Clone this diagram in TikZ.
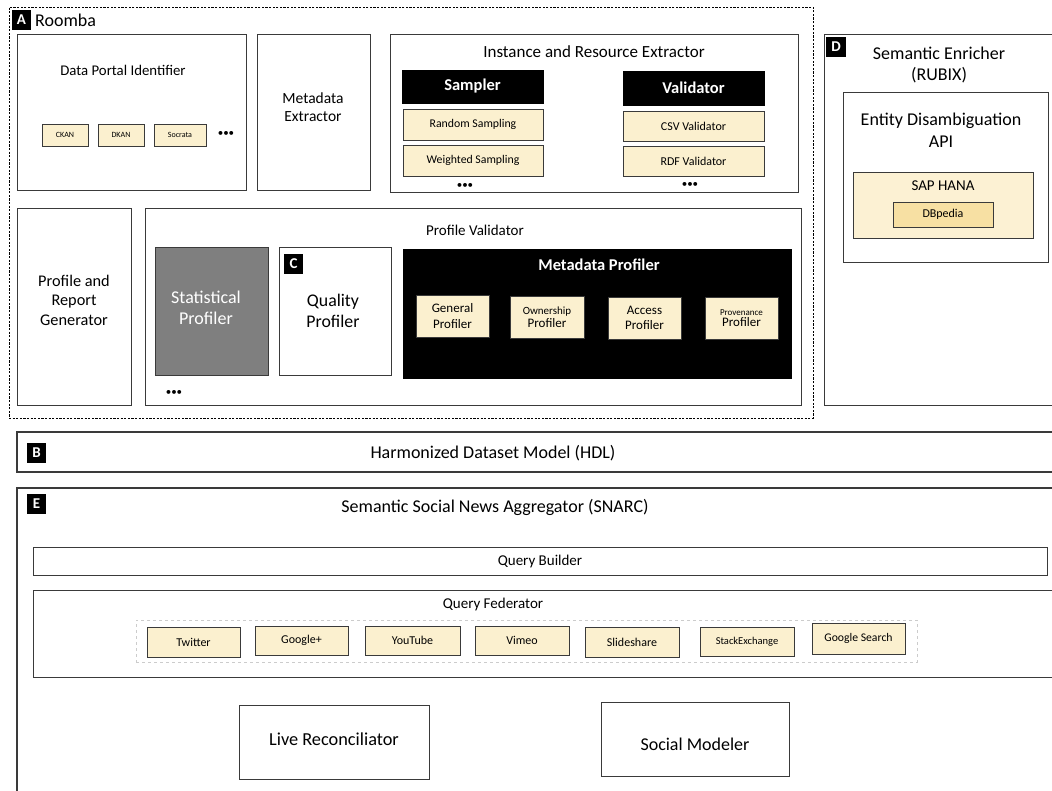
\documentclass[tikz,border=0pt]{standalone}
\usepackage{fontspec}
\setmainfont{Carlito}
\definecolor{cream}{HTML}{FBF0CF}
\definecolor{dbp}{HTML}{F7E0A3}
\definecolor{sap}{HTML}{FCF1D3}
\definecolor{edge}{HTML}{3A3A3A}
\definecolor{statgray}{HTML}{7F7F7F}
\newcommand\fs[1]{\fontsize{#1}{\fpeval{#1*1.2}}\selectfont}
\newcommand\bx[6]{\node[#6, inner sep=0pt, minimum width={(#4)-(#2)}, minimum height={(#5)-(#3)}] (#1) at ({((#2)+(#4))/2},{((#3)+(#5))/2}) {};}
\tikzset{
  box/.style={draw=edge, line width=1pt, fill=white},
  smallbox/.style={draw=edge, line width=0.9pt, fill=cream},
  blackbox/.style={draw=black, fill=black},
  graybox/.style={draw=edge, line width=1pt, fill=statgray},
  tag/.style={fill=black, text=white, font=\bfseries\fs{15}, minimum size=19.5pt, inner sep=0pt},
  lbl/.style={inner sep=0pt, align=center},
  wlbl/.style={inner sep=0pt, align=center, text=white},
  dots/.style={inner sep=0pt, font=\fs{11}},
}
\begin{document}
\begin{tikzpicture}[x=1pt,y=-1pt]
\path[use as bounding box, fill=white] (0,0) rectangle (1052,791);

% ---------- A Roomba ----------
\bx{roomba}{9}{7}{813}{418}{draw=black, line width=0.8pt, dash pattern=on 2.2pt off 1.4pt}
\node[tag] (tagA) at (21.5,20) {A};
\node[lbl, anchor=west, font=\fs{18}] (roombat) at (35,20.5) {Roomba};

% Data Portal Identifier
\bx{dpi}{17}{35}{246}{191}{box}
\node[lbl, font=\fs{14.8}] (dpit) at (123,70) {Data Portal Identifier};
\bx{ckan}{42}{124}{88}{146}{smallbox}
\node[lbl, font=\fs{8}] at (ckan) {CKAN};
\bx{dkan}{98}{124}{144}{146}{smallbox}
\node[lbl, font=\fs{8}] at (dkan) {DKAN};
\bx{socrata}{154}{124}{206}{146}{smallbox}
\node[lbl, font=\fs{8}] at (socrata) {Socrata};
\node[dots] (dpidots) at (226,134) {•••};

% Metadata Extractor
\bx{mex}{257}{35}{370}{191}{box}
\node[lbl, font=\fs{15.5}] at (313,107) {Metadata\\Extractor};

% Instance and Resource Extractor
\bx{ire}{390}{35}{798}{193}{box}
\node[lbl, font=\fs{17}] (iret) at (594,52) {Instance and Resource Extractor};
\bx{sampler}{402}{70}{543}{103}{blackbox}
\node[wlbl, font=\bfseries\fs{16.5}] at (sampler) {Sampler};
\bx{rs}{403}{109}{543}{140}{smallbox}
\node[lbl, font=\fs{11.8}] at (rs) {Random Sampling};
\bx{ws}{403}{145}{543}{176}{smallbox}
\node[lbl, font=\fs{11.8}] at (ws) {Weighted Sampling};
\node[dots] (sdots) at (465,186) {•••};
\bx{validator}{623}{71}{764}{105}{blackbox}
\node[wlbl, font=\bfseries\fs{16.5}] at (validator) {Validator};
\bx{csv}{623}{111}{764}{141}{smallbox}
\node[lbl, font=\fs{12}] at (csv) {CSV Validator};
\bx{rdf}{623}{146}{764}{176}{smallbox}
\node[lbl, font=\fs{12}] at (rdf) {RDF Validator};
\node[dots] (vdots) at (690,185) {•••};

% Profile and Report Generator
\bx{prg}{17}{209}{131}{405}{box}
\node[lbl, font=\fs{16.3}] at (74,300) {Profile and\\Report\\Generator};

% Profile Validator
\bx{pv}{145}{209}{801}{405}{box}
\node[lbl, font=\fs{15}] (pvt) at (475,230) {Profile Validator};
\bx{stat}{155}{248}{268}{376}{graybox}
\node[wlbl, font=\fs{18}] at (206,308) {Statistical\\Profiler};
\bx{qual}{279}{248}{391}{376}{box}
\node[tag] (tagC) at (293.5,264) {C};
\node[lbl, font=\fs{17.8}] at (333,311) {Quality\\Profiler};
\bx{mp}{403}{249}{791}{378}{blackbox}
\node[wlbl, font=\bfseries\fs{16.5}] (mpt) at (599,265) {Metadata Profiler};
\bx{gp}{416}{295}{489}{337}{smallbox}
\node[lbl, font=\fs{13}] at (gp) {General\\Profiler};
\bx{op}{510}{296}{584}{338}{smallbox}
\node[lbl, font=\fs{11}] at (op) {Ownership\\\fs{13}Profiler};
\bx{ap}{608}{297}{681}{339}{smallbox}
\node[lbl, font=\fs{13}] at (ap) {Access\\Profiler};
\bx{prp}{705}{297}{778}{339}{smallbox}
\node[lbl, font=\fs{9}] at (prp) {Provenance\\\fs{13}Profiler};
\node[dots] (pvdots) at (174,393) {•••};

% ---------- D Semantic Enricher ----------
\bx{se}{824}{35}{1054}{405}{box}
\node[tag] (tagD) at (836,47) {D};
\node[lbl, font=\fs{18}] (set) at (939,65) {Semantic Enricher\\(RUBIX)};
\bx{eda}{843}{93}{1048}{263}{box}
\node[lbl, font=\fs{18}] (edat) at (941,130) {Entity Disambiguation\\API};
\bx{sap}{853}{172}{1033}{238}{draw=edge, line width=0.9pt, fill=sap}
\node[lbl, font=\fs{15}] (sapt) at (943,186) {SAP HANA};
\bx{dbpedia}{893}{202}{993}{227}{draw=edge, line width=0.9pt, fill=dbp}
\node[lbl, font=\fs{12}] at (dbpedia) {DBpedia};

% ---------- B HDL ----------
\bx{hdl}{17}{432}{1055}{472}{draw=edge, line width=1.2pt, fill=white}
\node[tag] (tagB) at (36.5,453) {B};
\node[lbl, font=\fs{18}] at (493,453) {Harmonized Dataset Model (HDL)};

% ---------- E SNARC ----------
\bx{snarc}{17}{488}{1055}{795}{draw=edge, line width=1.2pt, fill=white}
\node[tag] (tagE) at (36.5,504) {E};
\node[lbl, font=\fs{18}] (snarct) at (495,507) {Semantic Social News Aggregator (SNARC)};
\bx{qb}{33}{547}{1047}{575}{box}
\node[lbl, font=\fs{15}] at (qb) {Query Builder};
\bx{qf}{33}{590}{1055}{677}{box}
\node[lbl, font=\fs{15}] (qft) at (493,604) {Query Federator};
\bx{srcs}{136}{620}{917}{662}{draw=gray!40, line width=0.8pt, dashed}
\bx{tw}{147}{627}{240}{657}{smallbox}
\node[lbl, font=\fs{12}] at (tw) {Twitter};
\bx{gplus}{255}{626}{348}{655}{smallbox}
\node[lbl, font=\fs{12}] at (gplus) {Google+};
\bx{yt}{365}{626}{460}{655}{smallbox}
\node[lbl, font=\fs{12}] at (yt) {YouTube};
\bx{vimeo}{475}{626}{569}{655}{smallbox}
\node[lbl, font=\fs{12}] at (vimeo) {Vimeo};
\bx{slide}{585}{627}{679}{657}{smallbox}
\node[lbl, font=\fs{12}] at (slide) {Slideshare};
\bx{stack}{700}{627}{794}{656}{smallbox}
\node[lbl, font=\fs{10.5}] at (stack) {StackExchange};
\bx{gsearch}{812}{623}{905}{654}{smallbox}
\node[lbl, font=\fs{11.7}] at (gsearch) {Google Search};
\bx{live}{239}{705}{429}{779}{box}
\node[lbl, font=\fs{18.3}] at (334,739) {Live Reconciliator};
\bx{social}{601}{702}{789}{776}{box}
\node[lbl, font=\fs{18}] at (695,744) {Social Modeler};
\end{tikzpicture}
\end{document}
